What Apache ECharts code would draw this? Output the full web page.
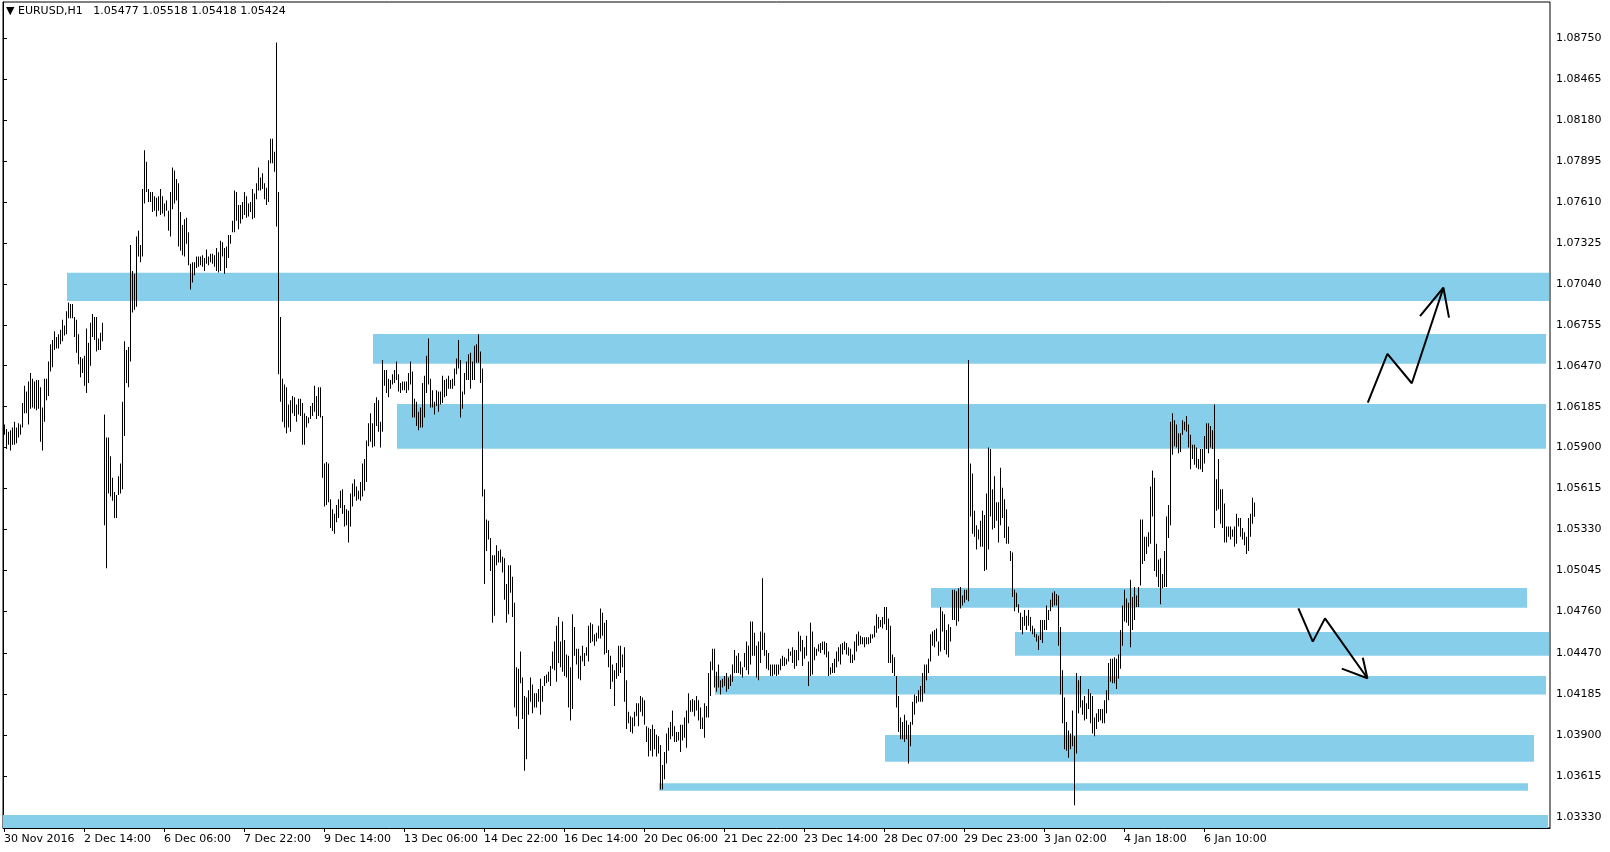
<!DOCTYPE html>
<html><head><meta charset="utf-8">
<script src="https://cdn.jsdelivr.net/npm/echarts@6/dist/echarts.min.js"></script>
<style>html,body{margin:0;padding:0;background:#fff}#c{width:1610px;height:852px}</style>
</head><body><div id="c"></div>
<script>
const symbolTitle = 'EURUSD,H1';
const lastBar = [1.05477, 1.05518, 1.05418, 1.05424];
const timeLabels = ['30 Nov 2016','2 Dec 14:00','6 Dec 06:00','7 Dec 22:00','9 Dec 14:00','13 Dec 06:00','14 Dec 22:00','16 Dec 14:00','20 Dec 06:00','21 Dec 22:00','23 Dec 14:00','28 Dec 07:00','29 Dec 23:00','3 Jan 02:00','4 Jan 18:00','6 Jan 10:00'];
const barsPerLabel = 40;
const priceTicks = [1.08750,1.08465,1.08180,1.07895,1.07610,1.07325,1.07040,1.06755,1.06470,1.06185,1.05900,1.05615,1.05330,1.05045,1.04760,1.04470,1.04185,1.03900,1.03615,1.03330];

const highs = [
1.0606,1.0603,1.0601,1.0602,1.0604,1.0608,1.0604,1.0607,1.0606,1.0621,
1.0633,1.0629,1.0636,1.0642,1.0638,1.0636,1.0637,1.0637,1.0632,1.0618,
1.0638,1.0638,1.0650,1.0662,1.0665,1.0671,1.0667,1.0669,1.0672,1.0679,
1.0675,1.0685,1.0691,1.0690,1.0690,1.0681,1.0679,1.0669,1.0653,1.0652,
1.0654,1.0673,1.0663,1.0677,1.0683,1.0681,1.0681,1.0666,1.0670,1.0677,
1.0613,1.0597,1.0597,1.0584,1.0569,1.0559,1.0557,1.0570,1.0579,1.0622,
1.0664,1.0658,1.0660,1.0731,1.0713,1.0711,1.0737,1.0741,1.0731,1.0770,
1.0797,1.0789,1.0770,1.0768,1.0768,1.0765,1.0764,1.0765,1.0770,1.0765,
1.0760,1.0762,1.0755,1.0768,1.0785,1.0783,1.0777,1.0774,1.0754,1.0745,
1.0749,1.0750,1.0740,1.0718,1.0719,1.0719,1.0723,1.0723,1.0723,1.0724,
1.0722,1.0728,1.0723,1.0725,1.0725,1.0724,1.0729,1.0726,1.0734,1.0733,
1.0729,1.0730,1.0738,1.0738,1.0748,1.0769,1.0768,1.0759,1.0759,1.0761,
1.0768,1.0765,1.0760,1.0761,1.0770,1.0767,1.0774,1.0785,1.0778,1.0781,
1.0774,1.0771,1.0790,1.0805,1.0805,1.0796,1.0872,1.0768,1.0681,1.0638,
1.0634,1.0632,1.0620,1.0623,1.0626,1.0625,1.0620,1.0624,1.0624,1.0621,
1.0614,1.0612,1.0611,1.0619,1.0621,1.0633,1.0626,1.0632,1.0632,1.0612,
1.0579,1.0580,1.0579,1.0554,1.0547,1.0544,1.0550,1.0554,1.0560,1.0561,
1.0550,1.0547,1.0546,1.0558,1.0565,1.0568,1.0563,1.0560,1.0566,1.0579,
1.0582,1.0595,1.0607,1.0614,1.0607,1.0621,1.0625,1.0623,1.0608,1.0651,
1.0644,1.0644,1.0638,1.0637,1.0641,1.0644,1.0650,1.0641,1.0635,1.0636,
1.0636,1.0636,1.0642,1.0650,1.0643,1.0624,1.0622,1.0615,1.0618,1.0635,
1.0640,1.0654,1.0666,1.0638,1.0630,1.0622,1.0630,1.0629,1.0629,1.0640,
1.0637,1.0638,1.0640,1.0637,1.0638,1.0645,1.0652,1.0665,1.0651,1.0629,
1.0642,1.0650,1.0655,1.0656,1.0650,1.0661,1.0662,1.0669,1.0657,1.0645,
1.0561,1.0540,1.0539,1.0527,1.0515,1.0515,1.0522,1.0518,1.0519,1.0514,
1.0513,1.0495,1.0508,1.0508,1.0500,1.0482,1.0437,1.0436,1.0448,1.0430,
1.0417,1.0416,1.0421,1.0430,1.0425,1.0419,1.0419,1.0422,1.0429,1.0424,
1.0431,1.0432,1.0434,1.0438,1.0448,1.0455,1.0466,1.0472,1.0455,1.0469,
1.0456,1.0446,1.0445,1.0437,1.0474,1.0465,1.0450,1.0450,1.0445,1.0452,
1.0447,1.0451,1.0466,1.0468,1.0467,1.0460,1.0461,1.0466,1.0478,1.0475,
1.0468,1.0470,1.0449,1.0445,1.0439,1.0435,1.0440,1.0452,1.0452,1.0446,
1.0451,1.0428,1.0406,1.0403,1.0402,1.0406,1.0412,1.0412,1.0417,1.0416,
1.0414,1.0396,1.0395,1.0394,1.0397,1.0394,1.0390,1.0389,1.0383,1.0369,
1.0378,1.0391,1.0395,1.0399,1.0407,1.0396,1.0392,1.0392,1.0397,1.0397,
1.0402,1.0407,1.0419,1.0414,1.0415,1.0414,1.0417,1.0414,1.0409,1.0402,
1.0412,1.0410,1.0433,1.0441,1.0450,1.0450,1.0434,1.0439,1.0428,1.0429,
1.0431,1.0433,1.0430,1.0432,1.0439,1.0449,1.0445,1.0447,1.0441,1.0437,
1.0447,1.0455,1.0452,1.0469,1.0469,1.0461,1.0452,1.0455,1.0462,1.0499,
1.0461,1.0449,1.0447,1.0439,1.0439,1.0439,1.0439,1.0439,1.0443,1.0445,
1.0444,1.0443,1.0450,1.0448,1.0451,1.0449,1.0449,1.0462,1.0459,1.0456,
1.0451,1.0459,1.0441,1.0468,1.0462,1.0451,1.0450,1.0453,1.0454,1.0455,
1.0455,1.0454,1.0448,1.0437,1.0440,1.0443,1.0448,1.0451,1.0453,1.0454,
1.0455,1.0454,1.0451,1.0450,1.0446,1.0455,1.0460,1.0462,1.0459,1.0458,
1.0458,1.0458,1.0458,1.0460,1.0460,1.0466,1.0474,1.0472,1.0470,1.0472,
1.0479,1.0479,1.0471,1.0466,1.0446,1.0444,1.0431,1.0417,1.0402,1.0399,
1.0404,1.0400,1.0397,1.0399,1.0413,1.0418,1.0417,1.0421,1.0424,1.0433,
1.0439,1.0439,1.0443,1.0460,1.0462,1.0463,1.0464,1.0455,1.0479,1.0476,
1.0474,1.0463,1.0467,1.0465,1.0491,1.0491,1.0490,1.0492,1.0493,1.0487,
1.0491,1.0491,1.0651,1.0579,1.0572,1.0546,1.0536,1.0533,1.0539,1.0546,
1.0543,1.0558,1.0590,1.0589,1.0561,1.0570,1.0552,1.0552,1.0576,1.0562,
1.0554,1.0547,1.0535,1.0518,1.0517,1.0491,1.0489,1.0481,1.0475,1.0472,
1.0477,1.0473,1.0477,1.0472,1.0466,1.0464,1.0460,1.0459,1.0470,1.0470,
1.0470,1.0480,1.0477,1.0484,1.0489,1.0490,1.0488,1.0487,1.0465,1.0435,
1.0416,1.0399,1.0393,1.0391,1.0407,1.0389,1.0433,1.0428,1.0431,1.0414,
1.0417,1.0412,1.0422,1.0419,1.0417,1.0402,1.0405,1.0408,1.0408,1.0408,
1.0414,1.0421,1.0440,1.0443,1.0443,1.0444,1.0443,1.0446,1.0463,1.0480,
1.0491,1.0485,1.0482,1.0498,1.0486,1.0493,1.0487,1.0493,1.0540,1.0540,
1.0528,1.0528,1.0531,1.0563,1.0574,1.0569,1.0523,1.0512,1.0513,1.0502,
1.0518,1.0542,1.0550,1.0608,1.0614,1.0609,1.0606,1.0600,1.0600,1.0609,
1.0608,1.0612,1.0606,1.0599,1.0592,1.0592,1.0590,1.0582,1.0589,1.0589,
1.0598,1.0607,1.0607,1.0605,1.0602,1.0620,1.0568,1.0582,1.0561,1.0561,
1.0551,1.0535,1.0535,1.0535,1.0533,1.0535,1.0544,1.0541,1.0541,1.0534,
1.0531,1.0528,1.0541,1.0544,1.0555,1.05518
];
const lows = [
1.0599,1.0589,1.0592,1.0588,1.0592,1.0592,1.0593,1.0597,1.0599,1.0604,
1.0614,1.0614,1.0606,1.0617,1.0618,1.0617,1.0616,1.0617,1.0594,1.0588,
1.0608,1.0623,1.0626,1.0643,1.0646,1.0658,1.0659,1.0659,1.0662,1.0664,
1.0668,1.0669,1.0680,1.0680,1.0680,1.0667,1.0656,1.0648,1.0639,1.0642,
1.0633,1.0628,1.0635,1.0647,1.0667,1.0665,1.0657,1.0658,1.0658,1.0664,
1.0536,1.0506,1.0558,1.0556,1.0553,1.0541,1.0541,1.0557,1.0558,1.0561,
1.0598,1.0635,1.0632,1.0650,1.0684,1.0686,1.0688,1.0723,1.0719,1.0723,
1.0760,1.0768,1.0761,1.0761,1.0754,1.0755,1.0751,1.0755,1.0752,1.0753,
1.0751,1.0755,1.0741,1.0737,1.0756,1.0760,1.0762,1.0730,1.0727,1.0724,
1.0723,1.0732,1.0717,1.0700,1.0705,1.0710,1.0715,1.0716,1.0717,1.0716,
1.0713,1.0718,1.0717,1.0719,1.0718,1.0716,1.0713,1.0712,1.0713,1.0723,
1.0711,1.0715,1.0722,1.0732,1.0740,1.0740,1.0748,1.0742,1.0746,1.0749,
1.0752,1.0750,1.0751,1.0754,1.0749,1.0750,1.0763,1.0769,1.0769,1.0770,
1.0763,1.0759,1.0761,1.0788,1.0788,1.0782,1.0744,1.0641,1.0622,1.0608,
1.0604,1.0600,1.0604,1.0601,1.0614,1.0612,1.0608,1.0613,1.0612,1.0592,
1.0592,1.0604,1.0607,1.0610,1.0612,1.0615,1.0610,1.0612,1.0611,1.0569,
1.0549,1.0550,1.0552,1.0534,1.0532,1.0530,1.0538,1.0541,1.0548,1.0544,
1.0535,1.0536,1.0524,1.0535,1.0549,1.0556,1.0553,1.0554,1.0553,1.0556,
1.0560,1.0566,1.0591,1.0594,1.0590,1.0591,1.0605,1.0601,1.0590,1.0601,
1.0633,1.0628,1.0625,1.0631,1.0634,1.0635,1.0637,1.0629,1.0628,1.0630,
1.0630,1.0628,1.0630,1.0634,1.0611,1.0611,1.0605,1.0602,1.0604,1.0604,
1.0611,1.0628,1.0634,1.0618,1.0618,1.0613,1.0619,1.0615,1.0620,1.0621,
1.0625,1.0626,1.0631,1.0631,1.0631,1.0633,1.0641,1.0645,1.0611,1.0617,
1.0627,1.0637,1.0637,1.0631,1.0637,1.0637,1.0649,1.0649,1.0635,1.0556,
1.0495,1.0518,1.0526,1.0504,1.0468,1.0473,1.0508,1.0510,1.0510,1.0503,
1.0484,1.0468,1.0474,1.0489,1.0472,1.0409,1.0403,1.0394,1.0426,1.0401,
1.0365,1.0373,1.0404,1.0413,1.0405,1.0409,1.0409,1.0413,1.0404,1.0413,
1.0424,1.0426,1.0427,1.0424,1.0436,1.0435,1.0427,1.0440,1.0437,1.0434,
1.0431,1.0430,1.0409,1.0400,1.0408,1.0445,1.0439,1.0429,1.0428,1.0441,
1.0438,1.0445,1.0441,1.0454,1.0455,1.0452,1.0455,1.0457,1.0457,1.0459,
1.0446,1.0447,1.0437,1.0422,1.0427,1.0410,1.0429,1.0431,1.0433,1.0437,
1.0413,1.0394,1.0398,1.0392,1.0391,1.0396,1.0403,1.0396,1.0406,1.0403,
1.0397,1.0385,1.0375,1.0379,1.0375,1.0380,1.0375,1.0377,1.0352,1.0352,
1.0359,1.0370,1.0379,1.0387,1.0389,1.0385,1.0385,1.0386,1.0378,1.0386,
1.0388,1.0381,1.0398,1.0406,1.0406,1.0403,1.0407,1.0400,1.0394,1.0394,
1.0388,1.0402,1.0402,1.0417,1.0435,1.0423,1.0420,1.0423,1.0418,1.0423,
1.0424,1.0420,1.0422,1.0424,1.0427,1.0433,1.0433,1.0433,1.0432,1.0430,
1.0437,1.0435,1.0432,1.0439,1.0445,1.0445,1.0430,1.0428,1.0440,1.0449,
1.0445,1.0436,1.0435,1.0431,1.0431,1.0432,1.0431,1.0432,1.0435,1.0438,
1.0438,1.0439,1.0441,1.0445,1.0440,1.0436,1.0438,1.0442,1.0448,1.0438,
1.0443,1.0445,1.0424,1.0431,1.0432,1.0442,1.0445,1.0448,1.0447,1.0449,
1.0446,1.0444,1.0431,1.0432,1.0433,1.0433,1.0437,1.0441,1.0439,1.0446,
1.0449,1.0446,1.0445,1.0440,1.0440,1.0442,1.0448,1.0452,1.0453,1.0453,
1.0451,1.0453,1.0453,1.0454,1.0457,1.0458,1.0461,1.0464,1.0465,1.0464,
1.0467,1.0463,1.0440,1.0440,1.0433,1.0431,1.0409,1.0392,1.0387,1.0387,
1.0385,1.0387,1.0370,1.0382,1.0397,1.0404,1.0412,1.0413,1.0413,1.0413,
1.0419,1.0428,1.0433,1.0441,1.0452,1.0451,1.0455,1.0445,1.0448,1.0462,
1.0449,1.0446,1.0444,1.0455,1.0470,1.0470,1.0466,1.0469,1.0478,1.0480,
1.0482,1.0484,1.0483,1.0542,1.0530,1.0528,1.0519,1.0526,1.0521,1.0521,
1.0504,1.0505,1.0519,1.0542,1.0533,1.0534,1.0539,1.0524,1.0536,1.0541,
1.0527,1.0523,1.0523,1.0511,1.0486,1.0476,1.0479,1.0475,1.0463,1.0460,
1.0466,1.0463,1.0466,1.0462,1.0460,1.0458,1.0455,1.0449,1.0456,1.0454,
1.0463,1.0463,1.0470,1.0476,1.0479,1.0480,1.0480,1.0452,1.0418,1.0398,
1.0380,1.0379,1.0374,1.0380,1.0382,1.0341,1.0377,1.0405,1.0409,1.0404,
1.0400,1.0401,1.0408,1.0398,1.0391,1.0389,1.0394,1.0399,1.0400,1.0398,
1.0398,1.0405,1.0414,1.0427,1.0426,1.0426,1.0422,1.0429,1.0436,1.0452,
1.0469,1.0468,1.0466,1.0451,1.0463,1.0470,1.0479,1.0479,1.0494,1.0509,
1.0511,1.0516,1.0521,1.0523,1.0542,1.0504,1.0500,1.0493,1.0481,1.0492,
1.0493,1.0493,1.0527,1.0536,1.0585,1.0591,1.0590,1.0586,1.0587,1.0599,
1.0602,1.0601,1.0590,1.0575,1.0582,1.0578,1.0576,1.0575,1.0575,1.0573,
1.0579,1.0589,1.0586,1.0590,1.0589,1.0534,1.0546,1.0547,1.0537,1.0534,
1.0524,1.0524,1.0528,1.0526,1.0528,1.0521,1.0523,1.0535,1.0528,1.0526,
1.0522,1.0516,1.0518,1.0528,1.0537,1.05418
];

// support / resistance zones: [first bar, last bar, upper price, lower price]
const zones = [
  [32, 773, 1.07118, 1.06921],
  [185, 771.5, 1.06691, 1.06484],
  [197, 771.5, 1.06204, 1.05892],
  [464, 762, 1.04922, 1.04785],
  [506, 773, 1.04616, 1.04451],
  [356, 771.5, 1.04310, 1.04180],
  [441, 765.5, 1.03899, 1.03713],
  [328, 762.5, 1.03563, 1.03511],
  [0, 772.5, 1.03342, 1.032513]
];
// hand-drawn arrows: [bar position, price]
const arrowUp = [[682.4,1.06214],[692.2,1.06552],[704.4,1.06348],[720.2,1.07013]];
const arrowUpHead = [[708.5,1.06816],[720.2,1.07013],[723.0,1.06805]];
const arrowDown = [[647.7,1.04781],[654.9,1.04549],[661.0,1.04711],[682.2,1.04294]];
const arrowDownHead = [[669.4,1.04361],[682.2,1.04294],[679.9,1.04437]];

const FONT = 'DejaVu Sans';
const yMin = 1.032513, yMax = 1.090027;
const xMax = 773.5;
const labelPos = timeLabels.map((_, k) => k * barsPerLabel + 0.5);
const bars = highs.map((h, i) => [i + 0.5, lows[i], h]);

const chart = echarts.init(document.getElementById('c'), null, {renderer: 'canvas'});
function arrowSeries(pts) {
  return {type: 'line', data: pts, symbol: 'none', silent: true, z: 8,
    lineStyle: {color: '#000', width: 2}, animation: false};
}
chart.setOption({
  animation: false,
  backgroundColor: '#fff',
  title: {
    text: '{t|▼} ' + symbolTitle + '   ' + lastBar.map(v => v.toFixed(5)).join(' '),
    left: 6, top: 6, padding: 0,
    textStyle: {fontFamily: FONT, fontSize: 11, fontWeight: 'normal', color: '#000',
      rich: {t: {fontSize: 11, fontFamily: FONT, color: '#000'}}}
  },
  grid: {left: 3, right: 60, top: 2, bottom: 24, show: true, borderColor: '#000', borderWidth: 1, backgroundColor: 'transparent'},
  xAxis: {
    type: 'value', min: 0, max: xMax,
    splitLine: {show: false},
    axisLine: {show: true, lineStyle: {color: '#000'}},
    axisTick: {show: true, customValues: labelPos, length: 4, lineStyle: {color: '#000'}},
    axisLabel: {customValues: labelPos, align: 'left', margin: 6, color: '#000', fontFamily: FONT, fontSize: 11,
      formatter: v => timeLabels[Math.round((v - 0.5) / barsPerLabel)] || ''}
  },
  yAxis: {
    type: 'value', position: 'right', min: yMin, max: yMax, scale: true,
    splitLine: {show: false},
    axisLine: {show: true, lineStyle: {color: '#000'}},
    axisTick: {show: true, customValues: priceTicks, length: 4, lineStyle: {color: '#000'}},
    axisLabel: {customValues: priceTicks, margin: 6, color: '#000', fontFamily: FONT, fontSize: 11,
      formatter: v => v.toFixed(5)}
  },
  series: [
    {
      type: 'line', data: [], z: 1, silent: true,
      markArea: {silent: true, itemStyle: {color: '#87CEEB'},
        data: zones.map(z => [{xAxis: z[0], yAxis: z[2]}, {xAxis: z[1], yAxis: z[3]}])},
      markLine: {silent: true, symbol: 'none', lineStyle: {opacity: 0},
        label: {show: true, position: 'end', distance: 1, formatter: () => lastBar[3].toFixed(5),
          backgroundColor: '#000', color: '#fff', fontFamily: FONT, fontSize: 11, padding: [1, 5, 1, 4]},
        data: [{yAxis: lastBar[3]}]}
    },
    {
      type: 'custom', z: 5, silent: true, clip: true,
      dimensions: ['x', 'low', 'high'],
      encode: {x: 0, y: [1, 2]},
      data: bars,
      renderItem: function (params, api) {
        const x = api.value(0);
        const pH = api.coord([x, api.value(2)]);
        const pL = api.coord([x, api.value(1)]);
        return {type: 'rect', shape: {x: Math.floor(pH[0]), y: pH[1], width: 1, height: Math.max(1, pL[1] - pH[1])},
          style: {fill: '#000'}};
      }
    },
    arrowSeries(arrowUp), arrowSeries(arrowUpHead), arrowSeries(arrowDown), arrowSeries(arrowDownHead)
  ]
});
</script></body></html>
